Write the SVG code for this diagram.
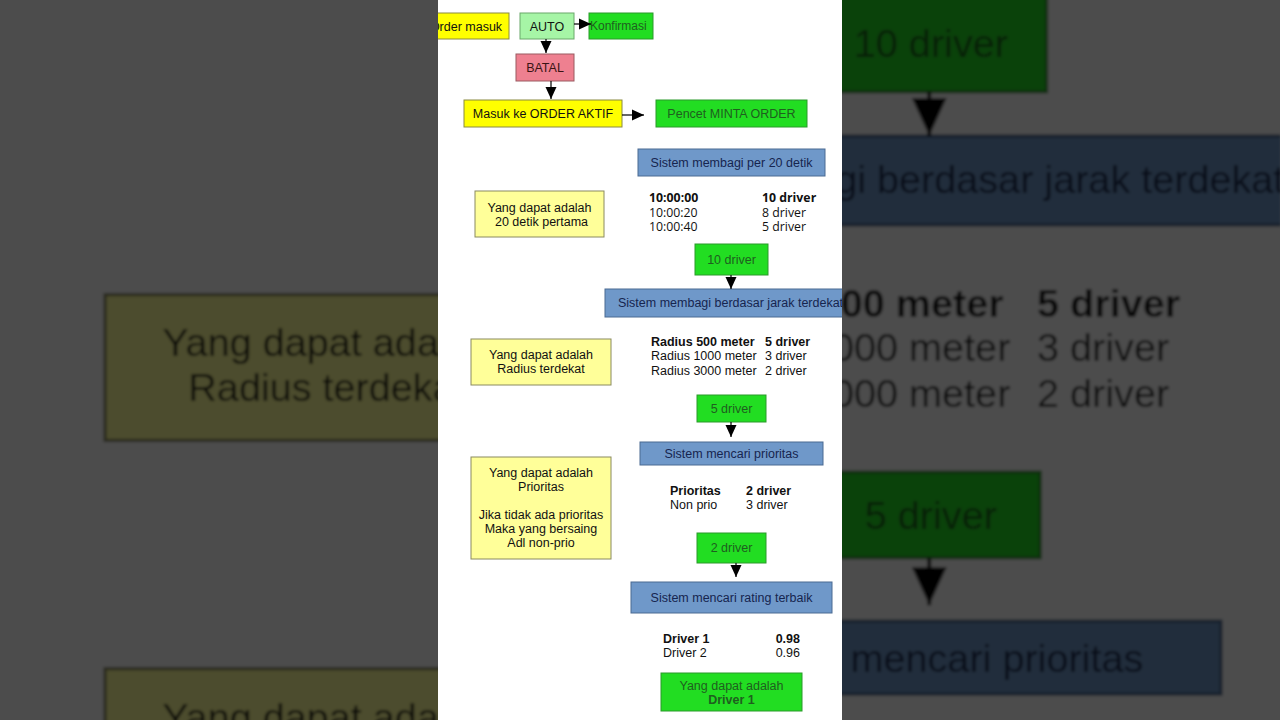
<svg xmlns="http://www.w3.org/2000/svg" xmlns:xlink="http://www.w3.org/1999/xlink" width="1280" height="720" viewBox="0 0 1280 720">
<defs>
<style>
text{font-family:"Liberation Sans",Arial,sans-serif;font-size:12.5px;fill:#111}
.c{text-anchor:middle}
.b{font-weight:bold}
.os{font-family:"Open Sans","Noto Sans",sans-serif;font-size:12.3px}
.yel{fill:#ffff00;stroke:#8a8a40;stroke-width:1}
.lyel{fill:#ffff99;stroke:#8a8a60;stroke-width:1}
.grn{fill:#22dd22;stroke:#2b9a2b;stroke-width:1}
.lgrn{fill:#a6f5a6;stroke:#6aa86a;stroke-width:1}
.red{fill:#ee8090;stroke:#9a5a60;stroke-width:1}
.blu{fill:#6f98c9;stroke:#4a6a92;stroke-width:1}
.tg{fill:#1f5f1f}
.tb{fill:#16254f}
.tr{fill:#3a1414}
.con line{stroke:#000;stroke-width:1.2;marker-end:url(#ah)}
</style>
<marker id="ah" markerUnits="userSpaceOnUse" markerWidth="12" markerHeight="12" viewBox="0 0 12 12" refX="12" refY="6" orient="auto">
<path d="M0,0.5 L12,6 L0,11.5 Z" fill="#000"/>
</marker>
<clipPath id="panel"><rect x="438" y="0" width="404" height="720"/></clipPath>
<filter id="blur" x="-5%" y="-5%" width="110%" height="110%"><feGaussianBlur stdDeviation="0.5"/></filter>
</defs>

<rect x="0" y="0" width="1280" height="720" fill="#ffffff"/>
<use xlink:href="#diagram" href="#diagram" transform="translate(-1388,-780) scale(3.17)" filter="url(#blur)"/>
<rect x="0" y="0" width="1280" height="720" fill="#000" opacity="0.7"/>
<rect x="438" y="0" width="404" height="720" fill="#ffffff"/>

<g id="diagram" clip-path="url(#panel)">
<rect x="438" y="0" width="404" height="720" fill="#ffffff"/>

<g id="order-masuk"><rect class="yel" x="423" y="13" width="86" height="26"/><text class="c" x="466" y="30.5">Order masuk</text></g>
<g id="auto"><rect class="lgrn" x="520" y="13" width="54" height="26"/><text class="c" x="547" y="30.5">AUTO</text></g>
<g id="konfirmasi"><rect class="grn" x="589" y="13" width="64" height="26"/><text class="tg" x="590" y="30" style="font-size:12px">Konfirmasi</text></g>
<g id="batal"><rect class="red" x="516" y="54" width="58" height="27"/><text class="c tr" x="545" y="72">BATAL</text></g>
<g id="order-aktif"><rect class="yel" x="464" y="100" width="158" height="27"/><text class="c" x="543" y="118">Masuk ke ORDER AKTIF</text></g>
<g id="minta-order"><rect class="grn" x="656" y="100" width="151" height="27"/><text class="c tg" x="731.5" y="118">Pencet MINTA ORDER</text></g>

<g id="sistem-20"><rect class="blu" x="638" y="149" width="187" height="27"/><text class="c tb" x="731.5" y="167">Sistem membagi per 20 detik</text></g>
<g id="note-20"><rect class="lyel" x="475" y="191" width="129" height="46"/><text class="c" x="539.5" y="211.5">Yang dapat adalah</text><text class="c" x="541.5" y="225.5">20 detik pertama</text></g>
<g id="table-waktu">
<text class="os b" x="649" y="202">10:00:00</text><text class="os" x="649" y="216.5">10:00:20</text><text class="os" x="649" y="231">10:00:40</text>
<text class="os b" x="762" y="202">10 driver</text><text class="os" x="762" y="216.5">8 driver</text><text class="os" x="762" y="231">5 driver</text>
</g>
<g id="box-10-driver"><rect class="grn" x="695" y="244" width="73" height="31"/><text class="c tg" x="731.5" y="264">10 driver</text></g>
<g id="sistem-jarak"><rect class="blu" x="605" y="289" width="260" height="28"/><text class="tb" x="618" y="307">Sistem membagi berdasar jarak terdekat</text></g>
<g id="note-radius"><rect class="lyel" x="471" y="339" width="140" height="46"/><text class="c" x="541" y="358.5">Yang dapat adalah</text><text class="c" x="541" y="372.5">Radius terdekat</text></g>
<g id="table-radius">
<text class="b" x="651" y="346">Radius 500 meter</text><text x="651" y="360">Radius 1000 meter</text><text x="651" y="374.5">Radius 3000 meter</text>
<text class="b" x="765" y="346">5 driver</text><text x="765" y="360">3 driver</text><text x="765" y="374.5">2 driver</text>
</g>
<g id="box-5-driver"><rect class="grn" x="697" y="395" width="69" height="27"/><text class="c tg" x="731.5" y="413">5 driver</text></g>
<g id="sistem-prioritas"><rect class="blu" x="640" y="442" width="183" height="23"/><text class="c tb" x="731.5" y="458">Sistem mencari prioritas</text></g>
<g id="note-prioritas"><rect class="lyel" x="471" y="457" width="140" height="102"/>
<text class="c" x="541" y="476.5">Yang dapat adalah</text><text class="c" x="541" y="490.5">Prioritas</text>
<text class="c" x="541" y="518.5">Jika tidak ada prioritas</text><text class="c" x="541" y="532.5">Maka yang bersaing</text><text class="c" x="541" y="547">Adl non-prio</text></g>
<g id="table-prioritas">
<text class="b" x="670" y="494.5">Prioritas</text><text x="670" y="508.5">Non prio</text>
<text class="b" x="746" y="494.5">2 driver</text><text x="746" y="508.5">3 driver</text>
</g>
<g id="box-2-driver"><rect class="grn" x="697" y="533" width="69" height="30"/><text class="c tg" x="731.5" y="552">2 driver</text></g>
<g id="sistem-rating"><rect class="blu" x="631" y="582" width="201" height="31"/><text class="c tb" x="731.5" y="601.5">Sistem mencari rating terbaik</text></g>
<g id="table-rating">
<text class="b" x="663" y="642.5">Driver 1</text><text x="663" y="656.5">Driver 2</text>
<text class="b" x="800" y="642.5" text-anchor="end">0.98</text><text x="800" y="656.5" text-anchor="end">0.96</text>
</g>
<g id="hasil"><rect class="grn" x="661" y="673" width="141" height="38"/><text class="c tg" x="731.5" y="689.5">Yang dapat adalah</text><text class="c tg b" x="731.5" y="703.5">Driver 1</text></g>

<g id="connectors" class="con">
<line x1="574" y1="24" x2="591" y2="24"/>
<line x1="546" y1="39" x2="546" y2="53"/>
<line x1="551" y1="81" x2="551" y2="99"/>
<line x1="622" y1="115" x2="644" y2="115"/>
<line x1="731" y1="275" x2="731" y2="289"/>
<line x1="731" y1="422" x2="731" y2="437"/>
<line x1="736" y1="563" x2="736" y2="577"/>
</g>
</g>
</svg>
